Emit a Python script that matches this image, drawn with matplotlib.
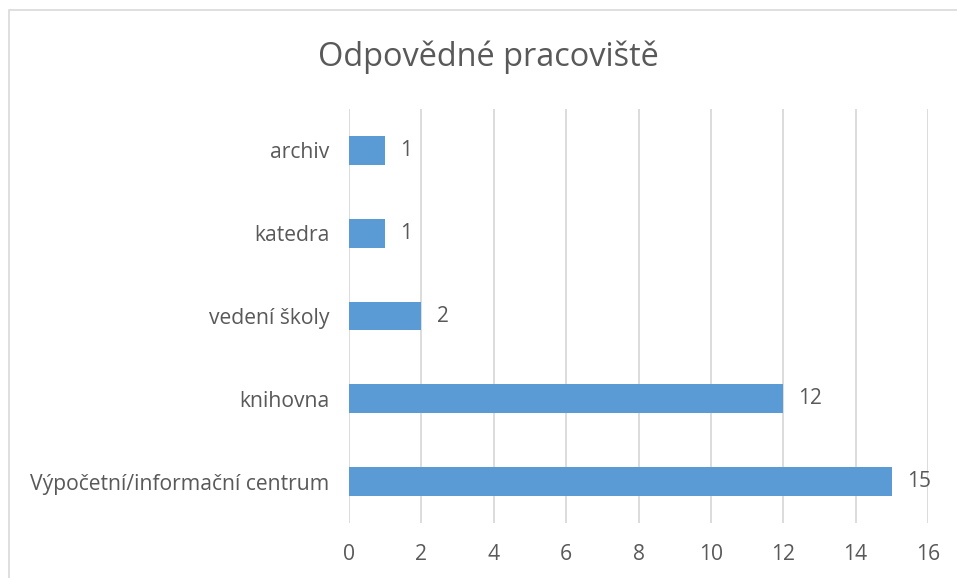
import matplotlib.pyplot as plt
from matplotlib.patches import Rectangle

plt.rcParams["font.family"] = ["Open Sans", "DejaVu Sans"]

categories = ["Výpočetní/informační centrum", "knihovna", "vedení školy", "katedra", "archiv"]
values = [15, 12, 2, 1, 1]
x_ticks = [0, 2, 4, 6, 8, 10, 12, 14, 16]

text_color = "#595959"
bar_color = "#5B9BD5"
grid_color = "#D9D9D9"

fig = plt.figure(figsize=(9.57, 5.78), dpi=100)
fig.patches.append(Rectangle((9 / 957, -0.01), 1.02, 1 - 10 / 578 + 0.01,
                             transform=fig.transFigure, fill=False,
                             edgecolor="#D9D9D9", linewidth=1.2))
ax = fig.add_axes([349 / 957, 1 - 523 / 578, (928 - 349) / 957, (523 - 109) / 578])

y = range(len(categories))
bars = ax.barh(y, values, height=0.35, color=bar_color, zorder=3)
for rect, v in zip(bars, values):
    ax.annotate(str(v), (rect.get_width(), rect.get_y() + rect.get_height() / 2),
                xytext=(11, 0), textcoords="offset points", va="center", ha="left",
                fontsize=15, color=text_color)

ax.set_xlim(0, 16)
ax.set_ylim(-0.5, len(categories) - 0.5)
ax.set_xticks(x_ticks)
ax.set_yticks(list(y))
ax.set_yticklabels(categories)
ax.tick_params(length=0, labelsize=15.2, labelcolor=text_color)
ax.tick_params(axis="x", pad=15)
ax.tick_params(axis="y", pad=14)
ax.grid(axis="x", color=grid_color, linewidth=1.3, zorder=0)
for s in ax.spines.values():
    s.set_visible(False)

fig.text(488 / 957, 1 - 57 / 578, "Odpovědné pracoviště", ha="center", va="center",
         fontsize=23.4, color=text_color)

fig.savefig("out.png", dpi=100)
